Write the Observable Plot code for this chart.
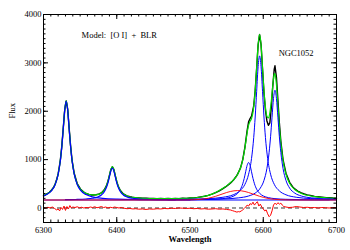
<!DOCTYPE html>
<html>
<head>
<meta charset="utf-8">
<script src="https://cdn.jsdelivr.net/npm/d3@7"></script>
<script src="https://cdn.jsdelivr.net/npm/@observablehq/plot@0.6"></script>
<style>
  html, body { margin: 0; padding: 0; background: white; }
  svg text { white-space: pre; }
</style>
</head>
<body>
<div id="chart"></div>
<script>
// ---- Observed spectrum (black) ----
const dataWave = [6300,6302,6305,6308,6311,6314,6316,6318,6320,6323,6325,6327,6329,6331,6333,6335,6337,6339,6342,6346,6351,6355,6358,6362,6365,6368,6372,6376,6379,6383,6386,6388,6390,6392,6394,6396,6398,6400,6402,6405,6409,6414,6418,6421,6425,6430,6435,6440,6445,6450,6455,6460,6465,6470,6475,6480,6485,6490,6495,6500,6505,6510,6515,6520,6525,6530,6535,6540,6545,6549,6553,6557,6560,6563,6565,6567,6569,6572,6575,6578,6580,6582,6584,6587,6589,6591,6593,6595,6597,6599,6601,6603,6605,6607,6609,6611,6613,6615,6616,6618,6620,6622,6624,6627,6631,6636,6640,6643,6647,6652,6656,6660,6666,6670,6675,6680,6686,6690,6695,6700];
const dataFlux = [250,268,295,325,372,430,500,590,705,990,1280,1660,2030,2215,2045,1650,1285,985,712,505,382,330,300,282,270,268,275,290,312,375,462,556,672,795,850,800,668,550,450,362,292,250,232,222,213,210,200,204,196,199,192,197,190,196,191,198,193,201,197,206,210,216,230,242,262,288,318,352,400,440,488,540,590,650,700,765,830,1000,1260,1600,1780,1850,1900,2110,2430,2890,3370,3585,3380,2880,2380,2020,1800,1710,1760,2080,2520,2870,2940,2700,2230,1760,1380,1000,720,530,440,395,350,312,290,272,255,240,232,225,215,212,205,202];

// ---- Total model (green) ----
const modelWave = [6300,6305,6311,6316,6320,6323,6325,6327,6329,6331,6333,6335,6337,6339,6342,6346,6351,6358,6365,6372,6379,6383,6386,6388,6390,6392,6394,6396,6398,6400,6402,6405,6409,6414,6421,6430,6444,6460,6480,6500,6515,6525,6535,6545,6553,6560,6565,6569,6572,6575,6578,6580,6582,6584,6587,6589,6591,6593,6595,6597,6599,6601,6603,6605,6607,6609,6611,6613,6615,6616,6618,6620,6622,6624,6627,6631,6636,6643,6652,6666,6686,6700];
const modelFlux = [257,292,367,495,701,986,1276,1653,2037,2214,2038,1654,1277,988,706,502,378,302,273,272,311,372,461,553,675,798,854,796,671,547,453,357,289,247,219,205,195,192,194,203,227,261,321,406,493,592,698,831,997,1245,1555,1713,1791,1847,2091,2426,2899,3377,3590,3375,2895,2418,2080,1894,1861,1967,2209,2528,2762,2776,2556,2128,1691,1340,977,697,511,382,301,245,210,198];

// ---- Narrow components (blue) ----
const oi6300Wave = [6300,6305,6311,6316,6320,6323,6325,6327,6329,6331,6333,6335,6337,6339,6342,6346,6351,6358,6367,6381,6401,6431,6480];
const oi6300Flux = [251,285,360,487,693,977,1267,1644,2028,2205,2028,1644,1267,977,693,487,360,277,229,199,182,174,169];
const oi6364Wave = [6330,6344,6358,6367,6374,6379,6383,6386,6388,6390,6392,6394,6396,6398,6400,6402,6405,6409,6414,6421,6430,6444,6464,6500];
const oi6364Flux = [172,176,186,201,228,269,336,428,521,644,768,825,768,644,521,428,336,269,228,201,186,176,171,168];
const haWave = [6480,6525,6545,6559,6568,6575,6580,6584,6587,6589,6591,6593,6595,6597,6599,6601,6603,6606,6610,6615,6622,6631,6645,6665,6700];
const haFlux = [176,194,222,273,353,490,698,1023,1458,1881,2412,2922,3145,2922,2412,1881,1458,1023,698,490,353,273,222,194,178];
const nii6583Wave = [6500,6546,6566,6580,6589,6596,6601,6605,6608,6610,6612,6614,6616,6618,6620,6622,6624,6627,6631,6636,6643,6652,6666,6686,6700];
const nii6583Flux = [173,187,209,248,308,412,571,819,1150,1473,1877,2265,2435,2265,1877,1473,1150,819,571,412,308,248,209,187,181];
const nii6548Wave = [6470,6510,6530,6544,6553,6560,6565,6569,6572,6574,6576,6578,6580,6582,6584,6586,6588,6591,6595,6600,6607,6616,6630,6650,6690];
const nii6548Flux = [168,173,180,193,214,249,304,388,501,611,749,882,940,882,749,611,501,388,304,249,214,193,180,173,168];
const contWave = [6300,6700];
const contFlux = [165,165];

// ---- Broad line region (red) ----
const blrWave = [6300,6480,6495,6505,6515,6525,6535,6545,6555,6565,6575,6585,6595,6605,6615,6625,6635,6650,6700];
const blrFlux = [165,165,166,170,180,202,242,294,341,360,341,294,242,202,180,170,166,165,165];

// ---- Residuals (red, bottom) ----
const resWave = [6300,6303,6306,6309,6312,6315,6318,6320,6322,6324,6326,6328,6330,6332,6334,6336,6338,6340,6343,6346,6349,6352,6355,6358,6361,6364,6367,6370,6373,6376,6379,6382,6385,6388,6391,6394,6397,6400,6403,6406,6410,6414,6418,6422,6426,6430,6435,6440,6445,6450,6455,6460,6465,6470,6475,6480,6485,6490,6495,6500,6505,6510,6515,6520,6525,6530,6535,6540,6545,6550,6555,6558,6561,6564,6566,6568,6570,6572,6574,6576,6578,6580,6582,6584,6586,6588,6590,6592,6594,6596,6598,6600,6602,6604,6606,6608,6610,6612,6614,6616,6618,6620,6622,6624,6626,6628,6631,6635,6640,6645,6650,6655,6660,6665,6670,6675,6680,6685,6690,6695,6700];
const resFlux = [10,-5,15,0,20,-10,-40,-20,-60,10,-30,40,-50,30,-20,50,0,20,10,25,5,15,0,10,5,20,10,25,5,15,30,10,20,0,15,5,20,10,0,10,-5,-15,-10,-20,-15,-25,-20,-30,-20,-25,-15,-20,-10,-15,-5,-10,0,-5,-10,-5,-15,-10,-20,-15,-25,-20,-15,-25,-20,-30,-40,-55,-70,-85,-75,-80,-60,-40,-10,20,60,40,90,70,120,60,100,130,40,80,20,-20,-60,-40,-120,-180,-150,-60,60,100,70,110,80,100,60,30,20,10,15,30,20,10,15,5,10,0,10,5,0,10,5];

// ---- Axes ----
const xTicks = [6300, 6400, 6500, 6600, 6700];
const yTicks = [0, 1000, 2000, 3000, 4000];
const xMinor = d3.range(6300, 6701, 10);
const yMinor = d3.range(-300, 4001, 100);
const xLabel = "Wavelength";
const yLabel = "Flux";

// ---- Annotations ----
const notes = [
  {text: "Model:  [O I]  +  BLR", wave: 6352, flux: 3566},
  {text: "NGC1052", wave: 6621, flux: 3194}
];

const rows = (w, f) => w.map((x, i) => ({x, y: f[i]}));

const W = 350, H = 250, mL = 43, mR = 14, mT = 14, mB = 28;
const fw = W - mL - mR, fh = H - mT - mB;
const font = "'Liberation Serif', 'DejaVu Serif', serif";

const blue = "#0000ff";
const chart = Plot.plot({
  width: W, height: H,
  marginLeft: mL, marginRight: mR, marginTop: mT, marginBottom: mB,
  style: {fontFamily: font, fontSize: "8.5px", background: "white", color: "black"},
  x: {domain: [6300, 6700]},
  y: {domain: [-300, 4000]},
  marks: [
    Plot.line(rows(dataWave, dataFlux), {x: "x", y: "y", stroke: "black", strokeWidth: 1.4}),
    Plot.line(rows(modelWave, modelFlux), {x: "x", y: "y", stroke: "#00dd00", strokeWidth: 1.2, curve: "monotone-x"}),
    Plot.line(rows(contWave, contFlux), {x: "x", y: "y", stroke: blue, strokeWidth: 1}),
    Plot.line(rows(oi6300Wave, oi6300Flux), {x: "x", y: "y", stroke: blue, strokeWidth: 1.2, curve: "monotone-x"}),
    Plot.line(rows(oi6364Wave, oi6364Flux), {x: "x", y: "y", stroke: blue, strokeWidth: 1.2, curve: "monotone-x"}),
    Plot.line(rows(haWave, haFlux), {x: "x", y: "y", stroke: blue, strokeWidth: 1, curve: "monotone-x"}),
    Plot.line(rows(nii6583Wave, nii6583Flux), {x: "x", y: "y", stroke: blue, strokeWidth: 1, curve: "monotone-x"}),
    Plot.line(rows(nii6548Wave, nii6548Flux), {x: "x", y: "y", stroke: blue, strokeWidth: 1, curve: "monotone-x"}),
    Plot.line(rows(blrWave, blrFlux), {x: "x", y: "y", stroke: "#ff0000", strokeWidth: 0.9, curve: "monotone-x"}),
    Plot.ruleY([0], {stroke: "black", strokeWidth: 0.8, strokeDasharray: "4,3"}),
    Plot.line(rows(resWave, resFlux), {x: "x", y: "y", stroke: "#ff0000", strokeWidth: 1}),
    Plot.frame({stroke: "black", strokeWidth: 1}),
    // inward ticks
    Plot.tickX(xMinor, {x: d => d, insetTop: fh - 2.5, stroke: "black"}),
    Plot.tickX(xMinor, {x: d => d, insetBottom: fh - 2.5, stroke: "black"}),
    Plot.tickX(xTicks, {x: d => d, insetTop: fh - 5, stroke: "black"}),
    Plot.tickX(xTicks, {x: d => d, insetBottom: fh - 5, stroke: "black"}),
    Plot.tickY(yMinor, {y: d => d, insetRight: fw - 2.5, stroke: "black"}),
    Plot.tickY(yMinor, {y: d => d, insetLeft: fw - 2.5, stroke: "black"}),
    Plot.tickY(yTicks, {y: d => d, insetRight: fw - 5, stroke: "black"}),
    Plot.tickY(yTicks, {y: d => d, insetLeft: fw - 5, stroke: "black"}),
    Plot.axisX(xTicks, {tickSize: 0, tickPadding: 4, tickFormat: d => String(d), label: null}),
    Plot.axisY(yTicks, {tickSize: 0, tickPadding: 2, tickFormat: d => String(d), label: null}),
    Plot.text([xLabel], {text: d => d, frameAnchor: "bottom", dy: 19, fontWeight: "bold"}),
    Plot.text([yLabel], {text: d => d, frameAnchor: "left", dx: -31, rotate: -90}),
    Plot.text(notes, {x: "wave", y: "flux", text: "text", textAnchor: "start"})
  ]
});
document.getElementById("chart").appendChild(chart);
</script>
</body>
</html>
